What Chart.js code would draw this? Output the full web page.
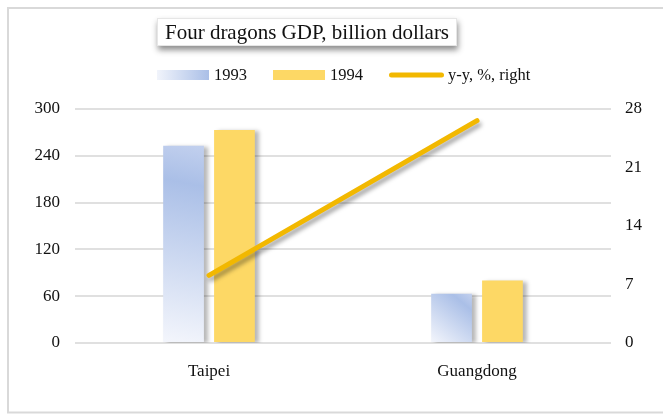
<!DOCTYPE html>
<html>
<head>
<meta charset="utf-8">
<script src="https://cdn.jsdelivr.net/npm/chart.js@4/dist/chart.umd.min.js"></script>
<style>
  html, body { margin: 0; padding: 0; background: #fff; }
  #wrap { width: 663px; height: 414px; position: relative; }
</style>
</head>
<body>
<div id="wrap"><canvas id="gdp-chart"></canvas></div>
<script>
const regions = ['Taipei', 'Guangdong'];
const gdp1993 = [253, 63];
const gdp1994 = [273, 80];
const growthPct = [8.1, 26.6];
const leftTicks = [0, 60, 120, 180, 240, 300];
const rightTicks = [0, 7, 14, 21, 28];
const chartTitle = 'Four dragons GDP, billion dollars';

const SERIF = '"Liberation Serif", "Times New Roman", serif';
const BLUE = '#AABFE7';
const GOLD = '#FDD865';
const LINE = '#F2B800';
const CAT_PCT = 0.38;
const BAR_PCT = 0.8;

// diagonal fade for the 1993 bars, white at the foot, blue near the top
function blueFade(context) {
  const chart = context.chart;
  if (!chart.chartArea) return BLUE;
  const xs = chart.scales.x, ys = chart.scales.y;
  const catW = xs.width / regions.length;
  const slot = catW * CAT_PCT / 2;
  const xc = xs.getPixelForValue(context.dataIndex) - slot / 2;
  const w = slot * BAR_PCT;
  const top = ys.getPixelForValue(gdp1993[context.dataIndex]);
  const base = ys.getPixelForValue(0);
  const g = chart.ctx.createLinearGradient(xc - w / 2, base, xc + w / 2, top);
  g.addColorStop(0, '#F4F6FC');
  g.addColorStop(0.8, BLUE);
  g.addColorStop(1, '#C2D0EE');
  return g;
}

const shadows = {
  id: 'shadows',
  beforeDatasetDraw(chart, args) {
    const ctx = chart.ctx;
    ctx.save();
    if (args.meta.type === 'line') {
      ctx.shadowColor = 'rgba(0,0,0,0.35)';
      ctx.shadowBlur = 4;
      ctx.shadowOffsetX = 2;
      ctx.shadowOffsetY = 4;
    } else {
      ctx.shadowColor = 'rgba(0,0,0,0.28)';
      ctx.shadowBlur = 4;
      ctx.shadowOffsetX = 4;
      ctx.shadowOffsetY = 1;
    }
  },
  afterDatasetDraw(chart) {
    chart.ctx.restore();
  }
};

// outer frame, boxed title and the legend row
const decorations = {
  id: 'decorations',
  beforeDraw(chart) {
    const ctx = chart.ctx;
    ctx.save();
    ctx.strokeStyle = '#D9D9D9';
    ctx.lineWidth = 2;
    ctx.strokeRect(8, 8, 700, 404.5);
    ctx.restore();
  },
  afterDraw(chart) {
    const ctx = chart.ctx;
    ctx.save();
    // title box
    ctx.shadowColor = 'rgba(0,0,0,0.45)';
    ctx.shadowBlur = 6;
    ctx.shadowOffsetX = 1;
    ctx.shadowOffsetY = 4;
    ctx.fillStyle = '#fff';
    ctx.fillRect(157, 18, 300, 28);
    ctx.shadowColor = 'transparent';
    ctx.strokeStyle = '#E6E6E6';
    ctx.lineWidth = 1;
    ctx.strokeRect(157.5, 18.5, 299, 27);
    ctx.fillStyle = '#111';
    ctx.font = '21px ' + SERIF;
    ctx.textBaseline = 'middle';
    ctx.textAlign = 'center';
    ctx.fillText(chartTitle, 307, 33);

    // legend
    ctx.font = '16.5px ' + SERIF;
    ctx.textAlign = 'left';
    const y = 75;
    let x = 157;
    chart.data.datasets.forEach((ds, i) => {
      if (ds.type === 'line') {
        ctx.strokeStyle = ds.borderColor;
        ctx.lineWidth = 5;
        ctx.lineCap = 'round';
        ctx.beginPath();
        ctx.moveTo(x + 2.5, y);
        ctx.lineTo(x + 52.5, y);
        ctx.stroke();
        x += 59;
      } else {
        let fill = ds.backgroundColor;
        if (typeof fill === 'function') {
          fill = ctx.createLinearGradient(x, 0, x + 52, 0);
          fill.addColorStop(0, '#F1F4FB');
          fill.addColorStop(1, BLUE);
        }
        ctx.fillStyle = fill;
        ctx.fillRect(x, y - 5, 52, 10);
        x += 57;
      }
      ctx.fillStyle = '#111';
      ctx.fillText(ds.label, x, y + 1);
      x += ctx.measureText(ds.label).width + 26;
    });
    ctx.restore();
  }
};

const ctx = document.getElementById('gdp-chart').getContext('2d');

const gdpChart = new Chart(ctx, {
  data: {
    labels: regions,
    datasets: [
      {
        type: 'bar',
        label: '1993',
        data: gdp1993,
        backgroundColor: blueFade,
        categoryPercentage: CAT_PCT,
        barPercentage: BAR_PCT,
        order: 1
      },
      {
        type: 'bar',
        label: '1994',
        data: gdp1994,
        backgroundColor: GOLD,
        categoryPercentage: CAT_PCT,
        barPercentage: BAR_PCT,
        order: 1
      },
      {
        type: 'line',
        label: 'y-y, %, right',
        data: growthPct,
        yAxisID: 'y1',
        borderColor: LINE,
        borderWidth: 5,
        borderCapStyle: 'round',
        pointRadius: 0,
        order: 0
      }
    ]
  },
  options: {
    responsive: true,
    maintainAspectRatio: false,
    animation: false,
    layout: { padding: { top: 109, left: 0, right: 0, bottom: 0 } },
    plugins: {
      legend: { display: false },
      title: { display: false },
      tooltip: { enabled: false }
    },
    scales: {
      x: {
        grid: { display: false },
        border: { display: false },
        ticks: { color: '#111', font: { family: SERIF, size: 17 }, padding: 10 },
        afterFit(scale) { scale.height = 71; }
      },
      y: {
        position: 'left',
        min: 0,
        max: 300,
        afterBuildTicks(scale) { scale.ticks = leftTicks.map(v => ({ value: v })); },
        grid: { color: '#E0E0E0', lineWidth: 2, drawTicks: false },
        border: { display: false },
        ticks: { color: '#111', font: { family: SERIF, size: 17 }, padding: 15 },
        afterFit(scale) { scale.width = 75; }
      },
      y1: {
        position: 'right',
        min: 0,
        max: 28,
        afterBuildTicks(scale) { scale.ticks = rightTicks.map(v => ({ value: v })); },
        grid: { display: false, drawTicks: false },
        border: { display: false },
        ticks: { color: '#111', font: { family: SERIF, size: 17 }, padding: 14 },
        afterFit(scale) { scale.width = 52; }
      }
    }
  },
  plugins: [shadows, decorations]
});
</script>
</body>
</html>
